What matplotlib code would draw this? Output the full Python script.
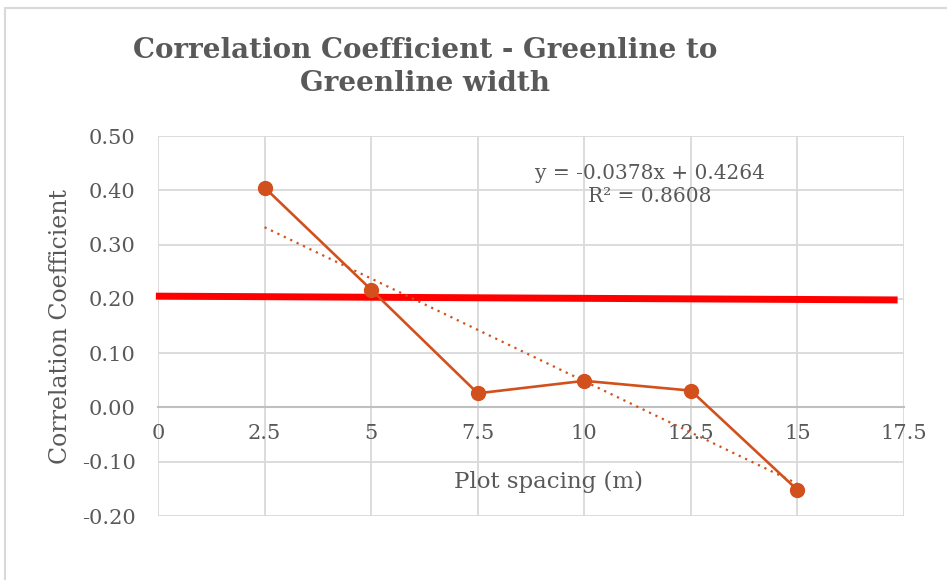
import matplotlib
matplotlib.use("Agg")
from matplotlib import pyplot as plt
from matplotlib.patches import Rectangle

# values
spacing = [2.5, 5, 7.5, 10, 12.5, 15]
corr = [0.405, 0.217, 0.026, 0.049, 0.031, -0.152]
slope = -0.0378
intercept = 0.4264
r_squared = 0.8608
threshold_x = [-0.05, 17.35]
threshold_y = [0.205, 0.198]
x_ticks = [0, 2.5, 5, 7.5, 10, 12.5, 15, 17.5]
x_tick_labels = ["0", "2.5", "5", "7.5", "10", "12.5", "15", "17.5"]
y_ticks = [-0.2, -0.1, 0.0, 0.1, 0.2, 0.3, 0.4, 0.5]

orange = "#D2501C"
grey_text = "#595959"
grid_col = "#D9D9D9"

plt.rcParams["font.family"] = ["DejaVu Serif"]

fig = plt.figure(figsize=(9.47, 5.8), dpi=100)
fig.patches.append(Rectangle((5 / 947, -0.1), 1.2, 1.1 - 8 / 580,
                             transform=fig.transFigure, fill=False,
                             edgecolor=grid_col, linewidth=1.5))

ax = fig.add_axes([158 / 947, 1 - 516 / 580, 746 / 947, 380 / 580])
ax.set_xlim(0, 17.5)
ax.set_ylim(-0.2, 0.5)

ax.plot(threshold_x, threshold_y, color="#FF0000", linewidth=5,
        solid_capstyle="butt", zorder=3, clip_on=False)
ax.plot(spacing, corr, color=orange, linewidth=1.9, marker="o",
        markersize=10, zorder=4)
trend_x = [spacing[0], spacing[-1]]
trend_y = [slope * x + intercept for x in trend_x]
ax.plot(trend_x, trend_y, color=orange, linewidth=1.6, linestyle=(0, (1, 2.2)),
        zorder=4)

ax.text(11.54, 0.41, f"y = {slope}x + {intercept}\nR² = {r_squared}", ha="center",
        va="center", fontsize=14.5, color=grey_text, linespacing=1.3)

ax.set_xticks(x_ticks)
ax.set_xticklabels(x_tick_labels)
ax.set_yticks(y_ticks)
ax.set_yticklabels([f"{v:.2f}" for v in y_ticks])
ax.grid(True, color=grid_col, linewidth=1.3)
ax.set_axisbelow(True)
for side in ["top", "right", "left"]:
    ax.spines[side].set_visible(False)
ax.spines["bottom"].set_position(("data", 0))
ax.spines["bottom"].set_color("#BFBFBF")
ax.spines["bottom"].set_linewidth(1.5)
ax.tick_params(length=0, labelsize=15, colors=grey_text)
ax.tick_params(axis="x", pad=12)
ax.tick_params(axis="y", pad=16)

ax.set_xlabel("Plot spacing (m)", fontsize=16.5, color=grey_text, labelpad=20)
ax.xaxis.label.set_x(0.523)
ax.set_ylabel("Correlation Coefficient", fontsize=17, color=grey_text,
              labelpad=7)

fig.text(425 / 947, 1 - 67 / 580, "Correlation Coefficient - Greenline to\nGreenline width",
         ha="center", va="center", fontsize=20, fontweight="bold",
         color=grey_text, linespacing=1.3)

fig.savefig("out.png", dpi=100)
